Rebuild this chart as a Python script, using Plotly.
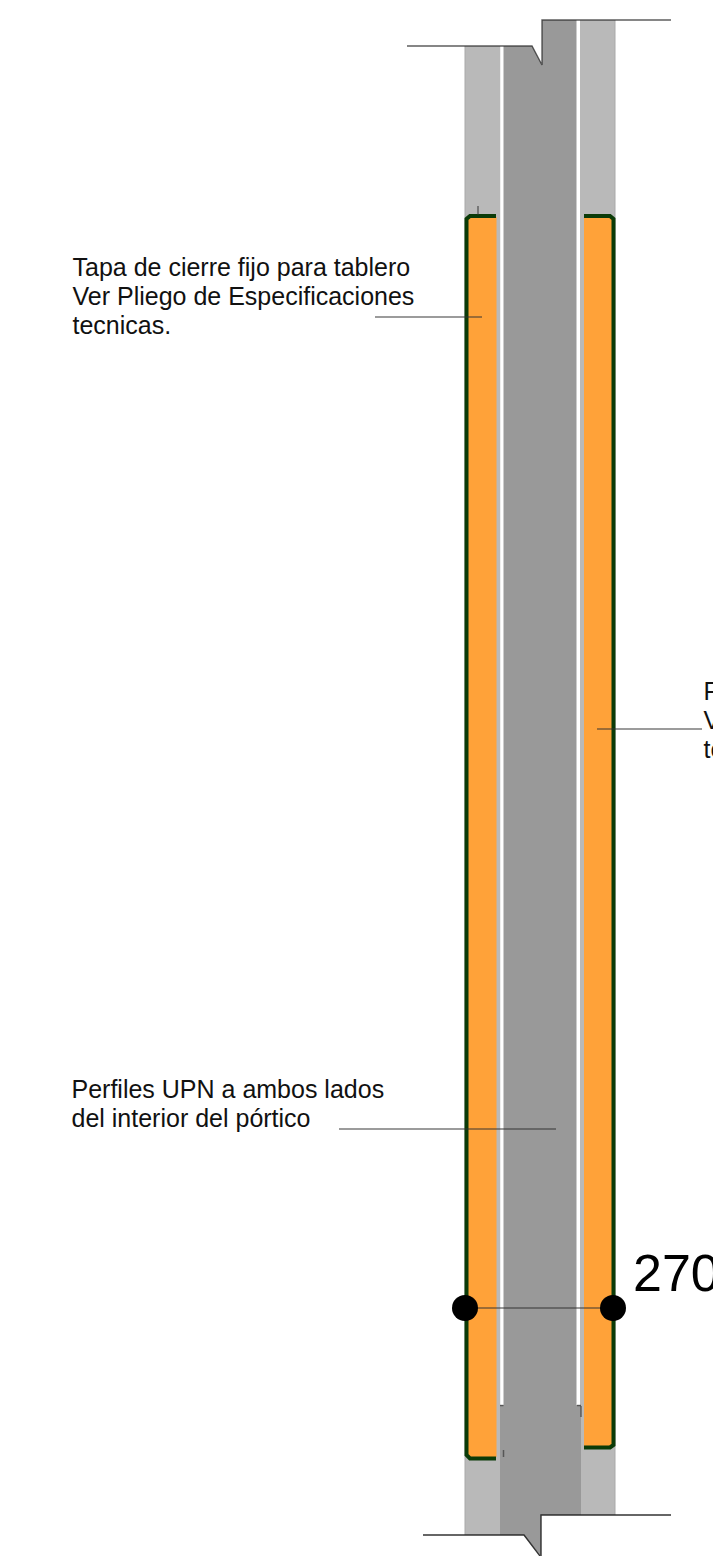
import plotly.graph_objects as go

# Drawing geometry, in the drawing's own units
panel_left_x = [465, 500.5, 500.5, 465]
panel_left_y = [46, 46, 1535, 1535]
panel_right_x = [580, 615, 615, 580]
panel_right_y = [20, 20, 1515, 1515]
gap_left_x = [500.5, 503.5, 503.5, 500.5]
gap_left_y = [46, 46, 1405, 1405]
gap_right_x = [576.5, 580, 580, 576.5]
gap_right_y = [20, 20, 1405, 1405]
core_x = [503.5, 532, 542, 542, 576.5, 576.5, 581, 581, 541, 541, 524, 500, 500, 503.5]
core_y = [46, 46, 65, 20, 20, 1405, 1405, 1515, 1515, 1556, 1535, 1535, 1405, 1405]
cover_left_x = [468, 496.5, 496.5, 468]
cover_left_y = [217, 217, 1457, 1457]
cover_right_x = [584, 612, 612, 584]
cover_right_y = [217, 217, 1447, 1447]
edge_left_x = [496, 470, 466.5, 466.5, 470, 496]
edge_left_y = [216, 216, 219, 1455, 1458.5, 1458.5]
edge_right_x = [584, 610, 613.5, 613.5, 610, 584]
edge_right_y = [216, 216, 219, 1445, 1447.5, 1447.5]
outline_top_x = [407, 532, 542, 542, 671]
outline_top_y = [46, 46, 65, 20, 20]
outline_bottom_x = [423, 524, 540, None, 541, 541, 671]
outline_bottom_y = [1535, 1535, 1556, None, 1556, 1515, 1515]
leader_x = [[375, 482], [597, 702], [339, 556], [465, 613], [478, 478], [581, 581], [577, 581], [503.5, 503.5], [500, 503.5]]
leader_y = [[317, 317], [729, 729], [1129, 1129], [1308, 1308], [206, 215], [1406, 1417], [1405.5, 1405.5], [1450, 1457], [1405.5, 1405.5]]
dot_x = [465, 613]
dot_y = [1308, 1308]

labels = ["Tapa de cierre fijo para tablero", "Ver Pliego de Especificaciones", "tecnicas.",
          "F", "V", "te",
          "Perfiles UPN a ambos lados", "del interior del pórtico"]
label_x = [72.5, 72.5, 72.5, 703.5, 703.5, 703.5, 71.5, 71.5]
label_y = [269.5, 298.5, 327.5, 693.5, 722.5, 751.5, 1092, 1121]
dim_label = "270"
dim_label_x = 633
dim_label_y = 1278

LIGHT, DARK, ORANGE, GREEN = "#b9b9b9", "#999999", "#ffa239", "#0b3b08"
fig = go.Figure()


def poly(x, y, fill):
    fig.add_trace(go.Scatter(x=x, y=y, mode="lines", fill="toself", fillcolor=fill,
                             line=dict(color=fill, width=0), hoverinfo="skip"))


def line(x, y, color, width):
    fig.add_trace(go.Scatter(x=x, y=y, mode="lines", line=dict(color=color, width=width),
                             connectgaps=False, hoverinfo="skip"))


poly(panel_left_x, panel_left_y, LIGHT)
poly(panel_right_x, panel_right_y, LIGHT)
poly(gap_left_x, gap_left_y, "#ffffff")
poly(gap_right_x, gap_right_y, "#ffffff")
poly(core_x, core_y, DARK)
poly(cover_left_x, cover_left_y, ORANGE)
poly(cover_right_x, cover_right_y, ORANGE)
line(panel_left_x[:1] + panel_left_x[3:], panel_left_y[:1] + panel_left_y[3:], "#a9a9a9", 1)
line(panel_right_x[1:3], panel_right_y[1:3], "#a9a9a9", 1)
line(edge_left_x, edge_left_y, GREEN, 4)
line(edge_right_x, edge_right_y, GREEN, 4)
line(outline_top_x, outline_top_y, "rgba(40,40,40,0.75)", 1.4)
line(outline_bottom_x, outline_bottom_y, "rgba(30,30,30,0.9)", 1.4)
for lx, ly in zip(leader_x, leader_y):
    line(lx, ly, "rgba(50,50,50,0.65)", 1.5)
fig.add_trace(go.Scatter(x=dot_x, y=dot_y, mode="markers",
                         marker=dict(color="#000000", size=26, line=dict(width=0)), hoverinfo="skip"))
fig.add_trace(go.Scatter(x=label_x, y=label_y, text=labels, mode="text", textposition="middle right",
                         textfont=dict(family="Liberation Sans", size=25, color="#111111"),
                         cliponaxis=False, hoverinfo="skip"))
fig.add_trace(go.Scatter(x=[dim_label_x], y=[dim_label_y], text=[dim_label], mode="text",
                         textposition="middle right",
                         textfont=dict(family="Liberation Sans", size=52, color="#000000"),
                         cliponaxis=False, hoverinfo="skip"))

fig.update_layout(width=713, height=1556, margin=dict(l=0, r=0, t=0, b=0), showlegend=False,
                  paper_bgcolor="#ffffff", plot_bgcolor="#ffffff",
                  xaxis=dict(range=[0, 713], visible=False, fixedrange=True),
                  yaxis=dict(range=[1556, 0], visible=False, fixedrange=True))
fig.write_html("out.html", config=dict(displayModeBar=False),
               post_script="document.body.style.margin='0';")
